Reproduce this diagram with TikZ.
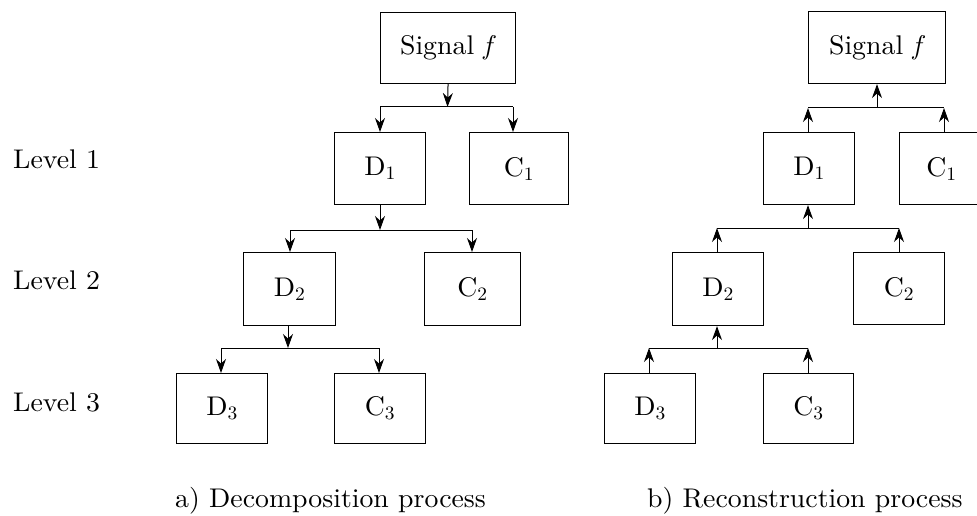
\documentclass[tikz,border=0pt]{standalone}
\usepackage{fontspec}
\setmainfont{lmroman10}[Extension=.otf, UprightFont=*-regular, ItalicFont=*-italic, FakeStretch=1.03]
\usetikzlibrary{arrows.meta}
\begin{document}
\begin{tikzpicture}[x=1pt,y=-1pt,
  every node/.style={font=\fontsize{27}{31}\selectfont},
  box/.style={draw, line width=1.1pt, inner sep=0pt, anchor=north west},
  wire/.style={line width=1pt},
  arr/.style={line width=1pt, -{Stealth[length=14pt,width=10pt]}},
  lvl/.style={anchor=base west, inner sep=0pt},
  caption/.style={anchor=base west, inner sep=0pt}]
\useasboundingbox (0,0) rectangle (977,516);
\clip (0,0) rectangle (977,516);

% level labels
\node[lvl] (lv1) at (13,168) {Level 1};
\node[lvl] (lv2) at (13,289) {Level 2};
\node[lvl] (lv3) at (13,411) {Level 3};

% ---------- a) decomposition tree ----------
\node[box, minimum width=135pt, minimum height=71pt] (sigL) at (380,12) {Signal \textit{f}};
\node[box, minimum width=91pt, minimum height=72pt] (D1L) at (334,132) {D\textsubscript{1}};
\node[box, minimum width=99pt, minimum height=72pt] (C1L) at (469,132) {C\textsubscript{1}};
\node[box, minimum width=92pt, minimum height=73pt] (D2L) at (243,252) {D\textsubscript{2}};
\node[box, minimum width=96pt, minimum height=73pt] (C2L) at (424,252) {C\textsubscript{2}};
\node[box, minimum width=91pt, minimum height=70pt] (D3L) at (176,373) {D\textsubscript{3}};
\node[box, minimum width=91pt, minimum height=70pt] (C3L) at (334,373) {C\textsubscript{3}};

\coordinate (lj1m) at (447.5,107);
\coordinate (lj1w) at (380,107);
\coordinate (lj1e) at (513,107);
\draw[arr] (sigL.south) -- (lj1m);
\draw[wire] (lj1w) -- (lj1e);
\draw[arr] (lj1w) -- (lj1w |- D1L.north);
\draw[arr] (lj1e) -- (lj1e |- C1L.north);

\coordinate (lj2m) at (380,230);
\coordinate (lj2w) at (290,230);
\coordinate (lj2e) at (472,230);
\draw[arr] (D1L.south -| lj2m) -- (lj2m);
\draw[wire] (lj2w) -- (lj2e);
\draw[arr] (lj2w) -- (lj2w |- D2L.north);
\draw[arr] (lj2e) -- (lj2e |- C2L.north);

\coordinate (lj3m) at (288,348);
\coordinate (lj3w) at (221,348);
\coordinate (lj3e) at (379,348);
\draw[arr] (D2L.south -| lj3m) -- (lj3m);
\draw[wire] (lj3w) -- (lj3e);
\draw[arr] (lj3w) -- (lj3w |- D3L.north);
\draw[arr] (lj3e) -- (lj3e |- C3L.north);

% ---------- b) reconstruction tree ----------
\node[box, minimum width=137pt, minimum height=72pt] (sigR) at (808,11) {Signal \textit{f}};
\node[box, minimum width=91pt, minimum height=72pt] (D1R) at (763,132) {D\textsubscript{1}};
\node[box, minimum width=84pt, minimum height=72pt] (C1R) at (899,132) {C\textsubscript{1}};
\node[box, minimum width=91pt, minimum height=73pt] (D2R) at (672,252) {D\textsubscript{2}};
\node[box, minimum width=91pt, minimum height=72pt] (C2R) at (853,252) {C\textsubscript{2}};
\node[box, minimum width=91pt, minimum height=70pt] (D3R) at (604,373) {D\textsubscript{3}};
\node[box, minimum width=90pt, minimum height=70pt] (C3R) at (763,373) {C\textsubscript{3}};

\coordinate (rj1m) at (877,108);
\coordinate (rj1w) at (808,108);
\coordinate (rj1e) at (944,108);
\draw[arr] (rj1m) -- (rj1m |- sigR.south);
\draw[wire] (rj1w) -- (rj1e);
\draw[arr] (rj1w |- D1R.north) -- (rj1w);
\draw[arr] (rj1e |- C1R.north) -- (rj1e);

\coordinate (rj2m) at (808,228);
\coordinate (rj2w) at (717,228);
\coordinate (rj2e) at (899,228);
\draw[arr] (rj2m) -- (rj2m |- D1R.south);
\draw[wire] (rj2w) -- (rj2e);
\draw[arr] (rj2w |- D2R.north) -- (rj2w);
\draw[arr] (rj2e |- C2R.north) -- (rj2e);

\coordinate (rj3m) at (717,348);
\coordinate (rj3w) at (649,348);
\coordinate (rj3e) at (808,348);
\draw[arr] (rj3m) -- (rj3m |- D2R.south);
\draw[wire] (rj3w) -- (rj3e);
\draw[arr] (rj3w |- D3R.north) -- (rj3w);
\draw[arr] (rj3e |- C3R.north) -- (rj3e);

% captions
\node[caption] (capA) at (175,507) {a) Decomposition process};
\node[caption] (capB) at (647,507) {b) Reconstruction process};
\end{tikzpicture}
\end{document}
